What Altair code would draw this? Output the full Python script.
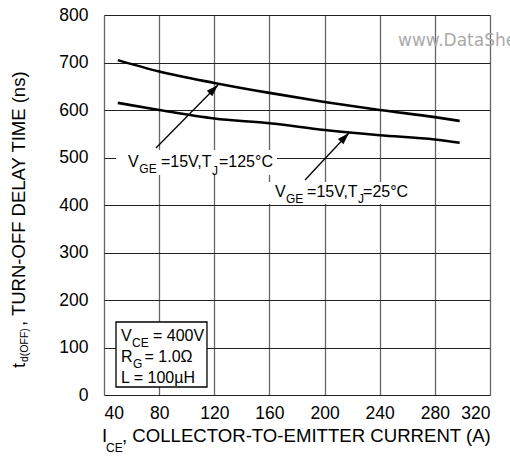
import altair as alt
import pandas as pd

FONT = "Liberation Sans"

# ---- data ----
i_ce = [50, 80, 120, 160, 200, 240, 280, 298]
td_125C = [705, 681, 657, 636, 617, 600, 585, 577]
td_25C = [615, 600, 582, 572, 558, 547, 538, 531]
x_ticks = [40, 80, 120, 160, 200, 240, 280, 320]
y_ticks = [0, 100, 200, 300, 400, 500, 600, 700, 800]

# annotation text pieces (data coordinates)
ann_text = ["V", "GE", "=15V,T", "J", "=125°C",
            "V", "GE", "=15V,T", "J", "=25°C",
            "V", "CE", "= 400V", "R", "G", "= 1.0Ω", "L = 100µH"]
ann_x = [57.4, 65.6, 81.3, 118.3, 123.4,
         164.0, 172.0, 187.3, 224.2, 227.9,
         52.3, 60.3, 75.5, 52.3, 61.0, 69.4, 52.3]
ann_y = [480, 467.4, 480, 463.2, 480,
         417.5, 404.2, 417.5, 404.9, 417.5,
         113.7, 101, 113.7, 69.5, 56.8, 69.5, 25.3]
ann_fs = [16, 12, 16, 12, 16,
          16, 12, 16, 12, 16,
          16, 12, 16, 16, 12, 16, 16]

# arrows (start -> tip), in data coordinates
arr_x1 = [77.7, 185.8]
arr_y1 = [520, 452.6]
arr_x2 = [122.7, 217.7]
arr_y2 = [652.6, 551.6]
arr_ang = [45, 44]

# white backgrounds behind labels
bg_x1 = [48.7, 157.5]
bg_x2 = [165.5, 263.4]
bg_y1 = [463.2, 402]
bg_y2 = [515.8, 448.4]

# conditions box
box = pd.DataFrame({"x1": [48.7], "x2": [114.7], "y1": [16.8], "y2": [153.7]})

curves = pd.DataFrame({
    "I": i_ce * 2,
    "td": td_125C + td_25C,
    "series": ["125"] * len(i_ce) + ["25"] * len(i_ce),
})

xs = alt.Scale(domain=[40, 320], nice=False, zero=False)
ys = alt.Scale(domain=[0, 800], nice=False)

xaxis = alt.Axis(values=x_ticks, title=None, grid=True, domain=False, ticks=False,
                 labelFont=FONT, labelFontSize=17.5, labelColor="black",
                 labelPadding=9, gridColor="#666666", gridWidth=1.3)
yaxis = alt.Axis(values=y_ticks, title=None, grid=True, domain=False, ticks=False,
                 labelFont=FONT, labelFontSize=17.5, labelColor="black",
                 labelPadding=16, gridColor="#222222", gridWidth=1)

lines = alt.Chart(curves).mark_line(color="black", strokeWidth=2.6, interpolate="monotone").encode(
    x=alt.X("I:Q", scale=xs, axis=xaxis),
    y=alt.Y("td:Q", scale=ys, axis=yaxis),
    detail="series:N",
)

bg_df = pd.DataFrame({"x1": bg_x1, "x2": bg_x2, "y1": bg_y1, "y2": bg_y2})
bgs = alt.Chart(bg_df).mark_rect(fill="white").encode(
    x=alt.X("x1:Q", scale=xs), x2="x2:Q", y=alt.Y("y1:Q", scale=ys), y2="y2:Q"
)

boxl = alt.Chart(box).mark_rect(fill="white", stroke="black", strokeWidth=1.3).encode(
    x=alt.X("x1:Q", scale=xs), x2="x2:Q", y=alt.Y("y1:Q", scale=ys), y2="y2:Q"
)

arr_df = pd.DataFrame({"x1": arr_x1, "y1": arr_y1, "x2": arr_x2, "y2": arr_y2, "ang": arr_ang})
shafts = alt.Chart(arr_df).mark_rule(color="black", strokeWidth=1.3).encode(
    x=alt.X("x1:Q", scale=xs), y=alt.Y("y1:Q", scale=ys), x2="x2:Q", y2="y2:Q"
)
heads = alt.Chart(arr_df).mark_point(
    shape="M0,0L-0.32,1L0.32,1Z", filled=True, fill="black", opacity=1, size=576, strokeWidth=0
).encode(
    x=alt.X("x2:Q", scale=xs), y=alt.Y("y2:Q", scale=ys),
    angle=alt.Angle("ang:Q", scale=None),
)

ann_df = pd.DataFrame({"x": ann_x, "y": ann_y, "t": ann_text, "fs": ann_fs})
texts = alt.Chart(ann_df).mark_text(
    align="left", baseline="alphabetic", font=FONT, color="black"
).encode(
    x=alt.X("x:Q", scale=xs), y=alt.Y("y:Q", scale=ys),
    text="t:N", size=alt.Size("fs:Q", scale=None),
)

watermark = alt.Chart(pd.DataFrame({"x": [253.3], "y": [734.7], "t": ["www.DataSheet4U.com"]})).mark_text(
    align="left", baseline="alphabetic", font="DejaVu Sans", fontSize=17, color="#aaaaaa"
).encode(x=alt.X("x:Q", scale=xs), y=alt.Y("y:Q", scale=ys), text="t:N")


def px_text(txt, px, py, fs, angle=0):
    kw = dict(align="left", baseline="alphabetic", font=FONT, fontSize=fs, color="black")
    if angle:
        kw["angle"] = angle
    return alt.Chart(alt.Data(values=[{}])).mark_text(**kw).encode(
        x=alt.value(px), y=alt.value(py), text=alt.value(txt)
    )


titles = [
    px_text("t", -79, 353, 18.5, 270),
    px_text("d(OFF)", -76, 347, 10.5, 270),
    px_text(", TURN-OFF DELAY TIME (ns)", -79, 311, 18.5, 270),
    px_text("I", -2, 426.7, 18.6),
    px_text("CE", 2, 436.7, 12),
    px_text(", COLLECTOR-TO-EMITTER CURRENT (A)", 18, 426.7, 18.6),
]

chart = alt.layer(bgs, lines, shafts, heads, boxl, texts, watermark, *titles).properties(
    width=386, height=380,
    autosize=alt.AutoSizeParams(type="none"),
    padding={"left": 104, "top": 15, "right": 20, "bottom": 61},
).configure_view(stroke="black", strokeWidth=3).configure(background="white")

chart.save("out.html", embed_options={"renderer": "svg", "actions": False})
